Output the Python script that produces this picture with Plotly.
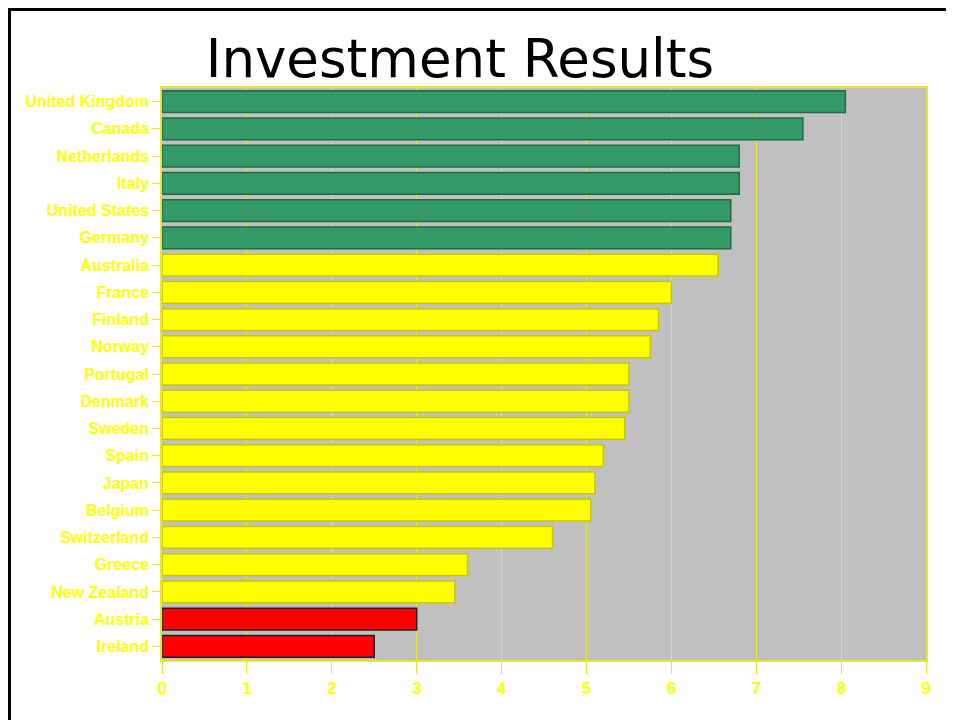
import plotly.graph_objects as go

# data (top to bottom)
countries = ['United Kingdom', 'Canada', 'Netherlands', 'Italy', 'United States',
             'Germany', 'Australia', 'France', 'Finland', 'Norway', 'Portugal',
             'Denmark', 'Sweden', 'Spain', 'Japan', 'Belgium', 'Switzerland',
             'Greece', 'New Zealand', 'Austria', 'Ireland']
results = [8.05, 7.55, 6.8, 6.8, 6.7, 6.7, 6.55, 6.0, 5.85, 5.75, 5.5,
           5.5, 5.45, 5.2, 5.1, 5.05, 4.6, 3.6, 3.45, 3.0, 2.5]
groups = ['top'] * 6 + ['mid'] * 13 + ['low'] * 2
x_ticks = [0, 1, 2, 3, 4, 5, 6, 7, 8, 9]

fill = {'top': '#339966', 'mid': '#ffff00', 'low': '#ff0000'}
edge = {'top': '#1f6b45', 'mid': '#c8c800', 'low': '#202020'}

# page body has an 8px margin, so the figure starts at (8, 8)
OFF = 8
W, H = 954 - OFF, 720 - OFF
ml, mr, mt, mb = 162 - OFF, 954 - 926, 88 - OFF, 720 - 660
pw, ph = W - ml - mr, H - mt - mb

def px_x(v):
    return (v - OFF - ml) / pw

def px_y(v):
    return (H - mb - (v - OFF)) / ph

fig = go.Figure()
fig.add_trace(go.Bar(
    x=results,
    y=countries,
    orientation='h',
    marker=dict(color=[fill[g] for g in groups],
                line=dict(color=[edge[g] for g in groups], width=1.5)),
    hoverinfo='x+y',
))

yellow = '#ffff00'
grid_yellow = '#e6e633'
label_font = dict(family='Liberation Sans, Arial', size=16, color=yellow)

fig.update_layout(
    width=W, height=H,
    margin=dict(l=ml, r=mr, t=mt, b=mb),
    paper_bgcolor='white',
    plot_bgcolor='#c0c0c0',
    bargap=0.2,
    showlegend=False,
    title=dict(text='Investment Results',
               font=dict(family='DejaVu Sans', size=53, color='black'),
               x=(460 - OFF) / W, xanchor='center', y=1 - (58 - OFF) / H, yanchor='middle',
               xref='container', yref='container'),
    xaxis=dict(range=[0, 9], tickvals=x_ticks, ticktext=['<b>%d</b>' % t for t in x_ticks],
               tickfont=dict(family='Liberation Sans, Arial', size=17, color=yellow),
               showgrid=True, gridcolor=grid_yellow, gridwidth=1,
               showline=True, linecolor=grid_yellow, linewidth=2, mirror=True,
               ticks='outside', ticklen=12, tickcolor=grid_yellow, zeroline=False),
    yaxis=dict(autorange='reversed', tickfont=label_font,
               tickvals=countries, ticktext=['<b>%s</b>' % c for c in countries],
               showline=True, linecolor=grid_yellow, linewidth=2, mirror=True,
               ticks='outside', ticklen=8, tickcolor=grid_yellow, showgrid=False),
    shapes=[
        dict(type='line', xref='paper', yref='paper',
             x0=px_x(9.5), x1=px_x(9.5), y0=px_y(9.5), y1=px_y(725),
             line=dict(color='black', width=3)),
        dict(type='line', xref='paper', yref='paper',
             x0=px_x(8), x1=px_x(960), y0=px_y(9.5), y1=px_y(9.5),
             line=dict(color='black', width=3)),
    ],
)

fig.write_html('out.html')
